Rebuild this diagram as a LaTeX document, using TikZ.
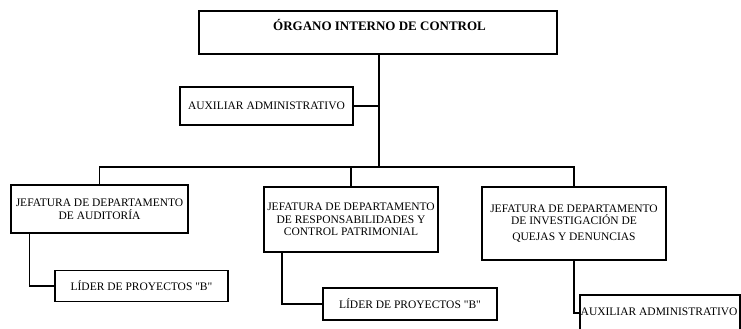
\documentclass[tikz,border=0pt]{standalone}
\usepackage{fontspec}
\setmainfont[Ligatures=TeXReset]{Liberation Serif}
\begin{document}
\begin{tikzpicture}[x=1pt,y=-1pt,
  box/.style={draw=black, line width=1.3pt, rectangle, inner sep=0pt},
  txt/.style={inner sep=0pt, align=center, font=\fontsize{11.5}{12.5}\selectfont},
  conn/.style={draw=black, line width=1.4pt},
  trunk/.style={draw=black, line width=2pt}]
\useasboundingbox (0,0) rectangle (741,329);
% boxes
\node[box, minimum width=358pt, minimum height=43pt] (top) at (378,32.5) {};
\node[txt, font=\bfseries\fontsize{13}{14}\selectfont] (toptxt) at (379.5,25) {ÓRGANO INTERNO DE CONTROL};
\node[box, minimum width=173pt, minimum height=38pt, txt] (aux) at (266.5,106) {AUXILIAR ADMINISTRATIVO};
\node[box, minimum width=177pt, minimum height=48pt, txt] (j1) at (99.5,209) {JEFATURA DE DEPARTAMENTO\\DE AUDITORÍA};
\node[box, minimum width=174pt, minimum height=65pt, txt] (j2) at (351,219.5) {JEFATURA DE DEPARTAMENTO\\DE RESPONSABILIDADES Y\\CONTROL PATRIMONIAL};
\node[box, minimum width=184pt, minimum height=73pt, txt] (j3) at (574,223.5) {JEFATURA DE DEPARTAMENTO\\DE INVESTIGACIÓN DE\\[3pt]QUEJAS Y DENUNCIAS};
\node[box, minimum width=173pt, minimum height=31pt, txt] (l1) at (141.5,286) {LÍDER DE PROYECTOS "B"};
\node[box, minimum width=174pt, minimum height=32pt, txt] (l2) at (410,304) {LÍDER DE PROYECTOS "B"};
\node[box, minimum width=160pt, minimum height=36pt] (a3) at (660,313) {};
\node[txt, anchor=west] (a3txt) at (580.5,312) {AUXILIAR ADMINISTRATIVO};
% connectors
\coordinate (bus) at (379,167);
\draw[trunk] (top.south -| bus) -- (bus);
\draw[conn] (aux.east) -- (aux.east -| bus);
\draw[conn] (j1.north) |- (bus) -| (j3.north);
\draw[conn] (j2.north) -- (j2.north |- bus);
\draw[conn] ([xshift=-70pt]j1.south) |- (l1.west);
\draw[conn] ([xshift=-69pt]j2.south) |- (l2.west);
\draw[conn] (j3.south) |- (a3.west);
\end{tikzpicture}
\end{document}
